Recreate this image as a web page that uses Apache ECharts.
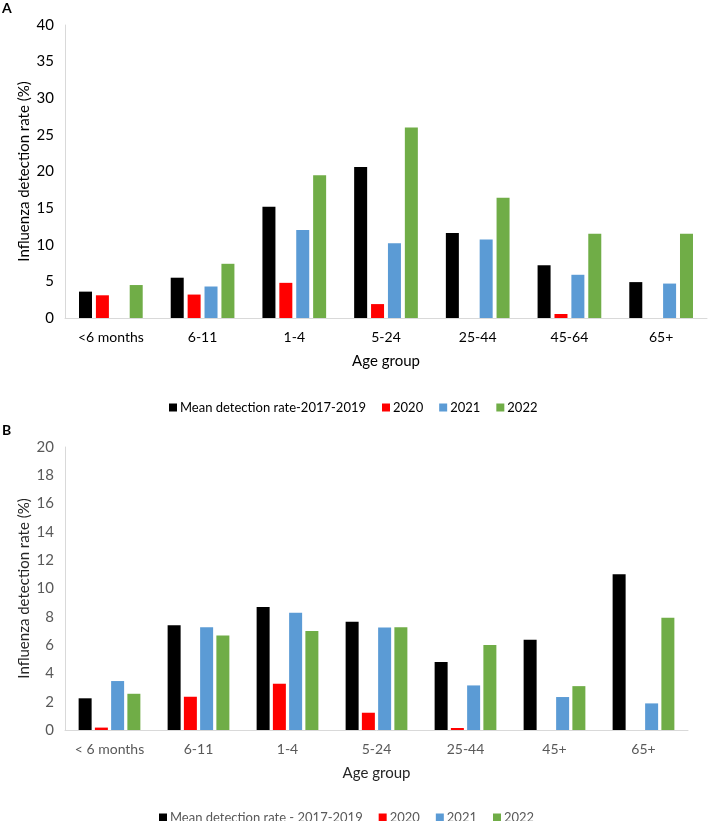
<!DOCTYPE html>
<html>
<head>
<meta charset="utf-8">
<script src="https://cdn.jsdelivr.net/npm/echarts@6/dist/echarts.min.js"></script>
<style>
  html, body { margin: 0; padding: 0; background: #fff; }
  #main { width: 709px; height: 821px; }
</style>
</head>
<body>
<div id="main"></div>
<script>
// panel A
const groupsA = ['<6 months', '6-11', '1-4', '5-24', '25-44', '45-64', '65+'];
const meanNameA = 'Mean detection rate-2017-2019';
const meanA = [3.6, 5.5, 15.2, 20.6, 11.6, 7.2, 4.9];
const y2020A = [3.1, 3.2, 4.8, 1.9, 0, 0.55, 0];
const y2021A = [0, 4.3, 12.0, 10.2, 10.7, 5.9, 4.7];
const y2022A = [4.5, 7.4, 19.5, 26.0, 16.4, 11.5, 11.5];
const ticksA = { min: 0, max: 40, interval: 5 };

// panel B
const groupsB = ['< 6 months', '6-11', '1-4', '5-24', '25-44', '45+', '65+'];
const meanNameB = 'Mean detection rate - 2017-2019';
const meanB = [2.24, 7.4, 8.7, 7.65, 4.8, 6.38, 11.0];
const y2020B = [0.17, 2.35, 3.27, 1.22, 0.14, 0, 0];
const y2021B = [3.46, 7.27, 8.28, 7.25, 3.15, 2.33, 1.88];
const y2022B = [2.56, 6.68, 6.99, 7.27, 6.0, 3.1, 7.93];
const ticksB = { min: 0, max: 20, interval: 2 };

const colors = ['#000000', '#FF0000', '#5B9BD5', '#70AD47'];
const font = 'Lato, "Open Sans", sans-serif';

const myChart = echarts.init(document.getElementById('main'));

function xAxis(idx, data, color) {
  return {
    type: 'category', gridIndex: idx, data: data,
    name: 'Age group', nameLocation: 'middle', nameGap: 36,
    nameTextStyle: { color: color === '#595959' ? '#262626' : color, fontSize: 15, fontFamily: font },
    axisLine: { lineStyle: { color: '#D9D9D9', width: 1 } },
    axisTick: { show: false },
    axisLabel: { color: color, fontSize: 14, fontFamily: font, margin: 12, interval: 0 }
  };
}
function yAxis(idx, ticks, color) {
  return {
    type: 'value', gridIndex: idx, min: ticks.min, max: ticks.max, interval: ticks.interval,
    name: 'Influenza detection rate (%)', nameLocation: 'middle', nameGap: 33,
    nameMoveOverlap: false,
    nameTextStyle: { color: color === '#595959' ? '#262626' : color, fontSize: 15, fontFamily: font },
    axisLine: { show: true, lineStyle: { color: '#D9D9D9', width: 1 } },
    axisTick: { show: false },
    splitLine: { show: false },
    axisLabel: { color: color, fontSize: 15, fontFamily: font, margin: 11 }
  };
}
function bar(name, data, idx, color, gap) {
  return {
    name: name, type: 'bar', xAxisIndex: idx, yAxisIndex: idx, data: data,
    barWidth: 13, barGap: gap,
    itemStyle: { color: color }
  };
}
function legend(names, top, left, color, gap) {
  return {
    data: names, top: top, left: left, icon: 'rect', itemWidth: 8, itemHeight: 8,
    itemGap: gap, textStyle: { fontSize: 13, fontFamily: font, color: color, padding: [0, 0, 0, -2] }
  };
}

const option = {
  animation: false,
  color: colors,
  title: [
    { text: 'A', left: -3, top: -4, textStyle: { fontSize: 14, fontWeight: 'bold', fontFamily: font, color: '#000' } },
    { text: 'B', left: -3, top: 418, textStyle: { fontSize: 14, fontWeight: 'bold', fontFamily: font, color: '#000' } }
  ],
  legend: [
    legend([meanNameA, '2020', '2021', '2022'], 396, 164, '#000000', 16),
    legend([meanNameB, '2020', '2021', '2022'], 806, 154, '#595959', 16)
  ],
  grid: [
    { left: 65, right: 2, top: 25, height: 293 },
    { left: 65, right: 21, top: 447, height: 283 }
  ],
  xAxis: [xAxis(0, groupsA, '#000000'), xAxis(1, groupsB, '#595959')],
  yAxis: [yAxis(0, ticksA, '#000000'), yAxis(1, ticksB, '#595959')],
  series: [
    bar(meanNameA, meanA, 0, colors[0], '30%'),
    bar('2020', y2020A, 0, colors[1], '30%'),
    bar('2021', y2021A, 0, colors[2], '30%'),
    bar('2022', y2022A, 0, colors[3], '30%'),
    bar(meanNameB, meanB, 1, colors[0], '25%'),
    bar('2020', y2020B, 1, colors[1], '25%'),
    bar('2021', y2021B, 1, colors[2], '25%'),
    bar('2022', y2022B, 1, colors[3], '25%')
  ]
};
myChart.setOption(option);
</script>
</body>
</html>
